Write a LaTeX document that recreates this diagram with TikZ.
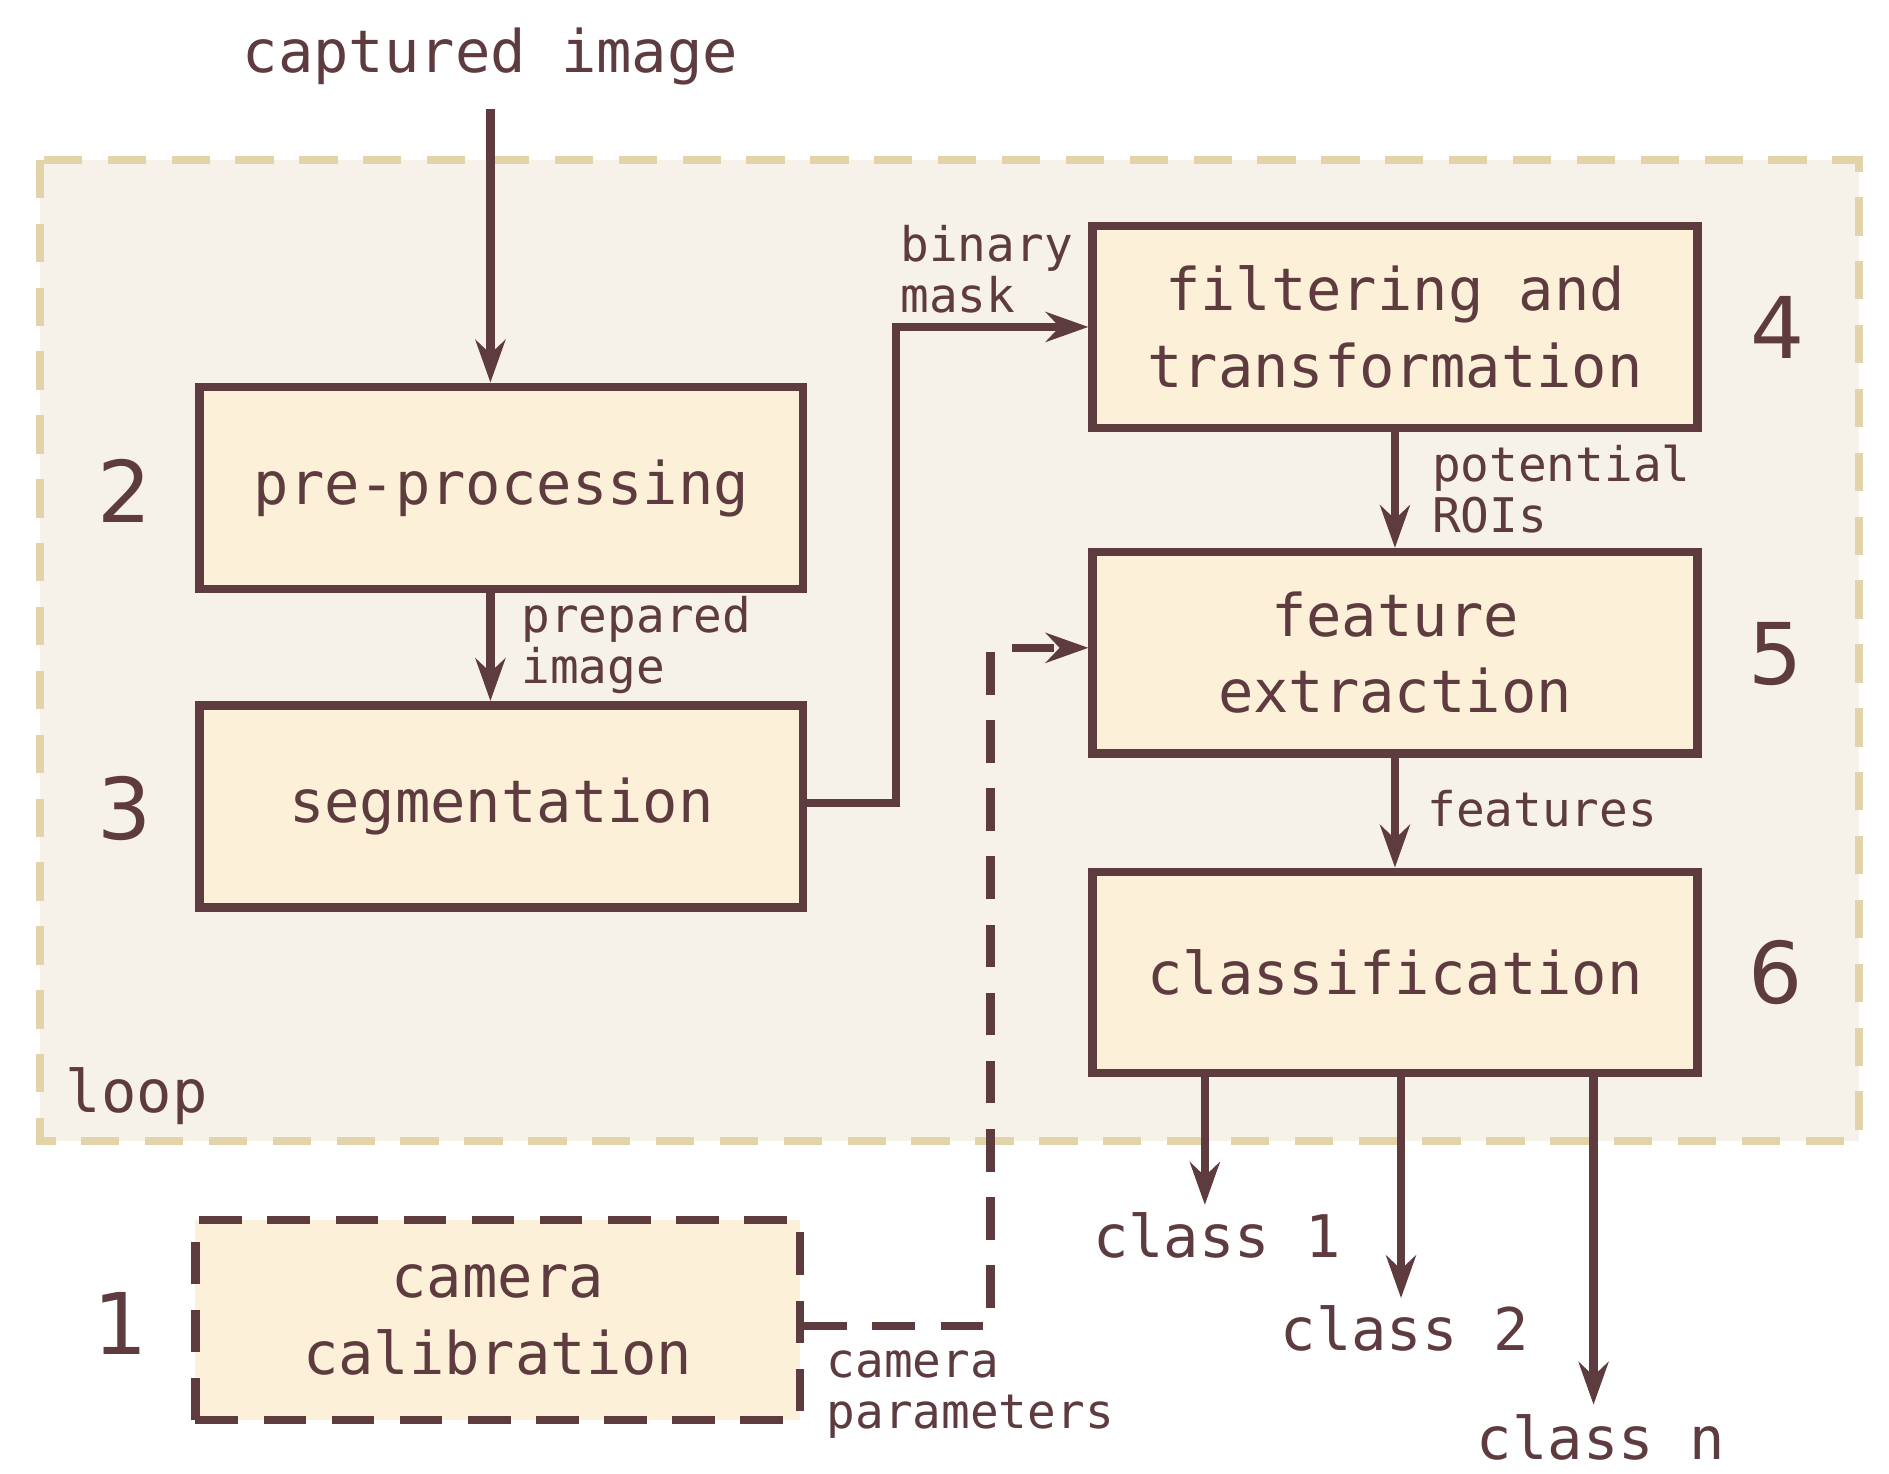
\documentclass[tikz,border=0pt]{standalone}
\usepackage{fontspec}
\setmainfont{DejaVu Sans Mono}
\newfontfamily\numf{DejaVu Sans}
\usetikzlibrary{arrows.meta}
\definecolor{br}{HTML}{5E3B3E}
\definecolor{bx}{HTML}{FCF1D8}
\definecolor{lp}{HTML}{F6F1E9}
\definecolor{lb}{HTML}{E2D3A9}
\begin{document}
\begin{tikzpicture}[x=0.01cm,y=-0.01cm,
  box/.style={draw=br,fill=bx,line width=2pt,align=center,text=br,font=\fontsize{13.8}{18}\selectfont},
  num/.style={text=br,font=\numf\fontsize{20}{24}\selectfont},
  lab/.style={text=br,font=\fontsize{11.2}{12}\selectfont,align=left,anchor=west,inner sep=0pt},
  big/.style={text=br,font=\fontsize{13.8}{18}\selectfont},
  ar/.style={draw=br,line width=2pt,-{Stealth[length=10pt,width=7pt]}}]
\useasboundingbox (0,0) rectangle (1560,1217);
\path[fill=lp,draw=lb,line width=1.8pt,dash pattern=on 9pt off 6pt] (33,132) rectangle (1535,942);
\node[box,minimum width=4.98cm,minimum height=1.67cm] (b2) at (414,403) {pre-processing};
\node[box,minimum width=4.98cm,minimum height=1.67cm] (b3) at (414,666) {segmentation};
\node[box,minimum width=4.99cm,minimum height=1.67cm] (b4) at (1152,270) {filtering and\\transformation};
\node[box,minimum width=4.99cm,minimum height=1.66cm] (b5) at (1152,539) {feature\\extraction};
\node[box,minimum width=4.99cm,minimum height=1.66cm] (b6) at (1152,803) {classification};
\node[box,dash pattern=on 10pt off 6pt,minimum width=4.99cm,minimum height=1.65cm] (b1) at (411,1090) {camera\\calibration};
\node[num] (n2) at (103,405) {2};
\node[num] (n3) at (103,668) {3};
\node[num] (n4) at (1468,270) {4};
\node[num] (n5) at (1466,540) {5};
\node[num] (n6) at (1466,803) {6};
\node[num] (n1) at (100,1093) {1};
\node[big] (cap) at (405,47) {captured image};
\node[big,anchor=west] (loop) at (42,905) {loop};
\coordinate (ct) at (405,90);
\draw[ar] (ct) -- (ct |- b2.north);
\draw[ar] (ct |- b2.south) -- (ct |- b3.north);
\node[lab] (l1) at (430,533) {prepared\\image};
\coordinate (s1) at (740,663);
\coordinate (s2) at (740,270);
\draw[ar] (b3.east |- s1) -- (s1) -- (s2) -- (b4.west);
\node[lab] (l2) at (743,222) {binary\\mask};
\draw[ar] (b4) -- (b5);
\node[lab] (l3) at (1182,404) {potential\\ROIs};
\draw[ar] (b5) -- (b6);
\node[lab] (l4) at (1178,668) {features};
\coordinate (o1) at (995,995);
\coordinate (o2) at (1157,1072);
\coordinate (o3) at (1316,1160);
\draw[ar] (b6.south -| o1) -- (o1);
\draw[ar] (b6.south -| o2) -- (o2);
\draw[ar] (b6.south -| o3) -- (o3);
\node[big] (c1) at (1005,1020) {class 1};
\node[big] (c2) at (1160,1097) {class 2};
\node[big] (c3) at (1322,1187) {class n};
\coordinate (d1) at (818,1095);
\coordinate (d2) at (818,535);
\draw[ar,dash pattern=on 10pt off 6pt] (b1.east |- d1) -- (d1) -- (d2) -- (b5.west |- d2);
\node[lab] (l5) at (682,1152) {camera\\parameters};
\end{tikzpicture}
\end{document}
